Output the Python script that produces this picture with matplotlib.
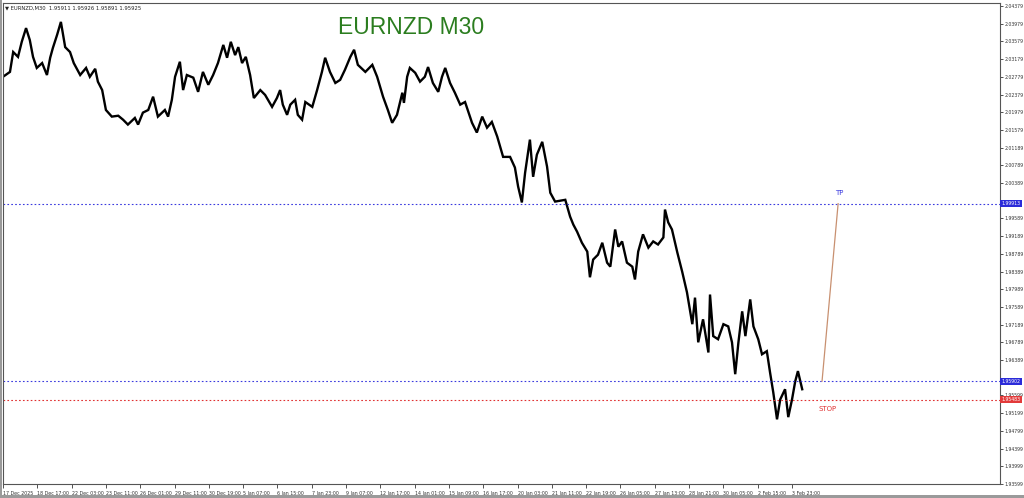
import matplotlib.pyplot as plt
import matplotlib.transforms as mtransforms
from matplotlib.patches import Rectangle

# M30 closes (bar index, price)
bars = [0, 13, 19, 28, 35, 43, 50, 56, 63, 73, 82, 88, 93, 101, 108, 116, 125, 132, 144, 155,
        162, 172, 177, 185, 192, 203, 215, 224, 233, 246, 252, 261, 271, 280, 289, 302, 308, 315, 321, 330,
        336, 343, 355, 364, 373, 383, 392, 401, 411, 418, 425, 433, 439, 446, 453, 461, 468, 480, 489, 502,
        511, 517, 522, 530, 536, 545, 550, 558, 564, 577, 586, 595, 601, 610, 620, 629, 638, 648, 655, 662,
        676, 689, 698, 709, 718, 726, 735, 745, 748, 754, 759, 769, 778, 787, 793, 802, 812, 819, 825, 834,
        843, 853, 862, 875, 884, 894, 903, 912, 922, 933, 946, 955, 961, 968, 974, 983, 989, 996, 1006, 1015,
        1021, 1030, 1049, 1058, 1064, 1071, 1080, 1090, 1095, 1101, 1110, 1118, 1127, 1133, 1142, 1148, 1155, 1164, 1174, 1179,
        1185, 1194, 1204, 1213, 1222, 1232, 1235, 1241, 1248, 1258, 1267, 1276, 1286, 1291, 1297, 1306, 1316, 1319, 1325, 1334,
        1344, 1353, 1360, 1366, 1372, 1379, 1385, 1394, 1400, 1409, 1416, 1425, 1431, 1437, 1444, 1450, 1459, 1465, 1472, 1478,
        1483, 1491]
closes = [2.0278, 2.0289, 2.0334, 2.0323, 2.0357, 2.0388, 2.0361, 2.0323, 2.0298, 2.0309, 2.0282, 2.0321, 2.0343, 2.0373, 2.0402, 2.0345, 2.0334, 2.0309, 2.0282, 2.0298,
          2.0278, 2.0296, 2.0267, 2.0248, 2.0203, 2.0188, 2.0190, 2.0181, 2.0170, 2.0185, 2.0170, 2.0197, 2.0203, 2.0233, 2.0188, 2.0203, 2.0188, 2.0226, 2.0278, 2.0312,
          2.0248, 2.0282, 2.0276, 2.0244, 2.0289, 2.0260, 2.0282, 2.0309, 2.0350, 2.0321, 2.0357, 2.0327, 2.0345, 2.0309, 2.0323, 2.0282, 2.0230, 2.0248, 2.0237, 2.0210,
          2.0230, 2.0248, 2.0215, 2.0192, 2.0215, 2.0226, 2.0192, 2.0181, 2.0221, 2.0210, 2.0248, 2.0289, 2.0321, 2.0289, 2.0264, 2.0271, 2.0294, 2.0323, 2.0339, 2.0305,
          2.0289, 2.0305, 2.0278, 2.0233, 2.0203, 2.0174, 2.0192, 2.0242, 2.0219, 2.0278, 2.0298, 2.0287, 2.0267, 2.0278, 2.0300, 2.0264, 2.0244, 2.0278, 2.0298, 2.0264,
          2.0242, 2.0215, 2.0221, 2.0174, 2.0152, 2.0188, 2.0163, 2.0176, 2.0143, 2.0097, 2.0097, 2.0073, 2.0030, 1.9994, 2.0061, 2.0136, 2.0052, 2.0102, 2.0131, 2.0075,
          2.0016, 1.9996, 2.0000, 1.9962, 1.9944, 1.9928, 1.9903, 1.9883, 1.9825, 1.9865, 1.9876, 1.9903, 1.9858, 1.9849, 1.9933, 1.9894, 1.9906, 1.9858, 1.9849, 1.9820,
          1.9883, 1.9922, 1.9892, 1.9906, 1.9899, 1.9915, 1.9978, 1.9949, 1.9933, 1.9881, 1.9838, 1.9791, 1.9719, 1.9779, 1.9678, 1.9730, 1.9655, 1.9786, 1.9692, 1.9685,
          1.9719, 1.9714, 1.9678, 1.9606, 1.9678, 1.9748, 1.9692, 1.9775, 1.9714, 1.9685, 1.9651, 1.9658, 1.9610, 1.9565, 1.9504, 1.9549, 1.9572, 1.9509, 1.9549, 1.9590,
          1.9613, 1.9572]

tp_level = 1.99913
entry_level = 1.95902
stop_level = 1.95483
tp_path_bars = [1528, 1558]
tp_path_prices = [entry_level, tp_level]

time_labels = ['17 Dec 2025', '18 Dec 17:00', '22 Dec 03:00', '23 Dec 11:00', '26 Dec 01:00',
               '29 Dec 11:00', '30 Dec 19:00', '5 Jan 07:00', '6 Jan 15:00', '7 Jan 23:00',
               '9 Jan 07:00', '12 Jan 17:00', '14 Jan 01:00', '15 Jan 09:00', '16 Jan 17:00',
               '20 Jan 03:00', '21 Jan 11:00', '22 Jan 19:00', '26 Jan 05:00', '27 Jan 13:00',
               '28 Jan 21:00', '30 Jan 05:00', '2 Feb 15:00', '3 Feb 23:00']
bars_per_label = 64

# labels hidden under the price boxes are left blank
price_labels = ['2.04379', '2.03979', '2.03579', '2.03179', '2.02779', '2.02379', '2.01979',
                '2.01579', '2.01189', '2.00789', '2.00389', '', '1.99589', '1.99189',
                '1.98789', '1.98389', '1.97989', '1.97589', '1.97189', '1.96789', '1.96389',
                '', '1.95599', '1.95199', '1.94799', '1.94399', '1.93999', '1.93599']

fig = plt.figure(figsize=(10.24, 4.98), dpi=100)
ax = fig.add_axes([3 / 1024, 14 / 498, 997 / 1024, 481 / 498])

ax.plot(bars, closes, color='black', lw=1.7, solid_joinstyle='miter')

ax.axhline(tp_level, color='#3a3adf', lw=0.8, ls=(0, (1.5, 2)))
ax.axhline(entry_level, color='#3a3adf', lw=0.8, ls=(0, (1.5, 2)))
ax.axhline(stop_level, color='#e03030', lw=0.8, ls=(0, (1.5, 2)))
ax.plot(tp_path_bars, tp_path_prices, color='#c89070', lw=0.9)

ax.text(tp_path_bars[1] + 3, tp_level + 0.0020, 'TP', color='#3a3adf', fontsize=5, ha='center')
ax.text(tp_path_bars[0] + 10, stop_level - 0.0026, 'STOP', color='#e03030', fontsize=5, ha='center')

ax.set_xlim(0, 1860)
ax.set_ylim(1.93600, 2.04447)

ax.set_xticks([i * bars_per_label for i in range(len(time_labels))])
ax.set_xticklabels(time_labels, fontsize=3.4, color='#333333')
offset = mtransforms.ScaledTranslation(2 / 100, 0, fig.dpi_scale_trans)
for lbl in ax.get_xticklabels():
    lbl.set_horizontalalignment('left')
    lbl.set_transform(lbl.get_transform() + offset)
ax.tick_params(axis='x', length=3, width=0.6, pad=2, colors='#333333')

ax.set_yticks([2.04379 - 0.004 * i for i in range(len(price_labels))])
ax.set_yticklabels(price_labels, fontsize=3.3, color='#333333')
ax.yaxis.tick_right()
ax.tick_params(axis='y', length=2, width=0.6, pad=1, colors='#333333')

for s in ax.spines.values():
    s.set_color('#555555')
    s.set_linewidth(0.8)

# price boxes on the right scale
box_tr = ax.get_yaxis_transform()
for lvl, fc in [(tp_level, '#2b2bd9'), (entry_level, '#2b2bd9'), (stop_level, '#e23a3a')]:
    ax.text(1.0015, lvl, f'{lvl:.5f}', transform=box_tr, fontsize=3.3, color='white',
            ha='left', va='center', clip_on=False,
            bbox=dict(boxstyle='square,pad=0.25', fc=fc, ec='none'))

fig.text(5 / 1024, 1 - 8 / 498, '\u25bc EURNZD,M30  1.95911 1.95926 1.95891 1.95925',
         fontsize=3.8, color='#222222', va='center', ha='left')
fig.text(411 / 1024, 1 - 28 / 498, 'EURNZD M30', fontsize=16.5, color='#2b7d1f',
         ha='center', va='center', family='Liberation Sans')

# window frame bits
fig.patches.append(Rectangle((0, 0), 1, 3 / 498, transform=fig.transFigure, fc='#9a9a9a', ec='none'))
fig.patches.append(Rectangle((0, 0), 2 / 1024, 1, transform=fig.transFigure, fc='#9a9a9a', ec='none'))

fig.savefig('out.png', dpi=100)
